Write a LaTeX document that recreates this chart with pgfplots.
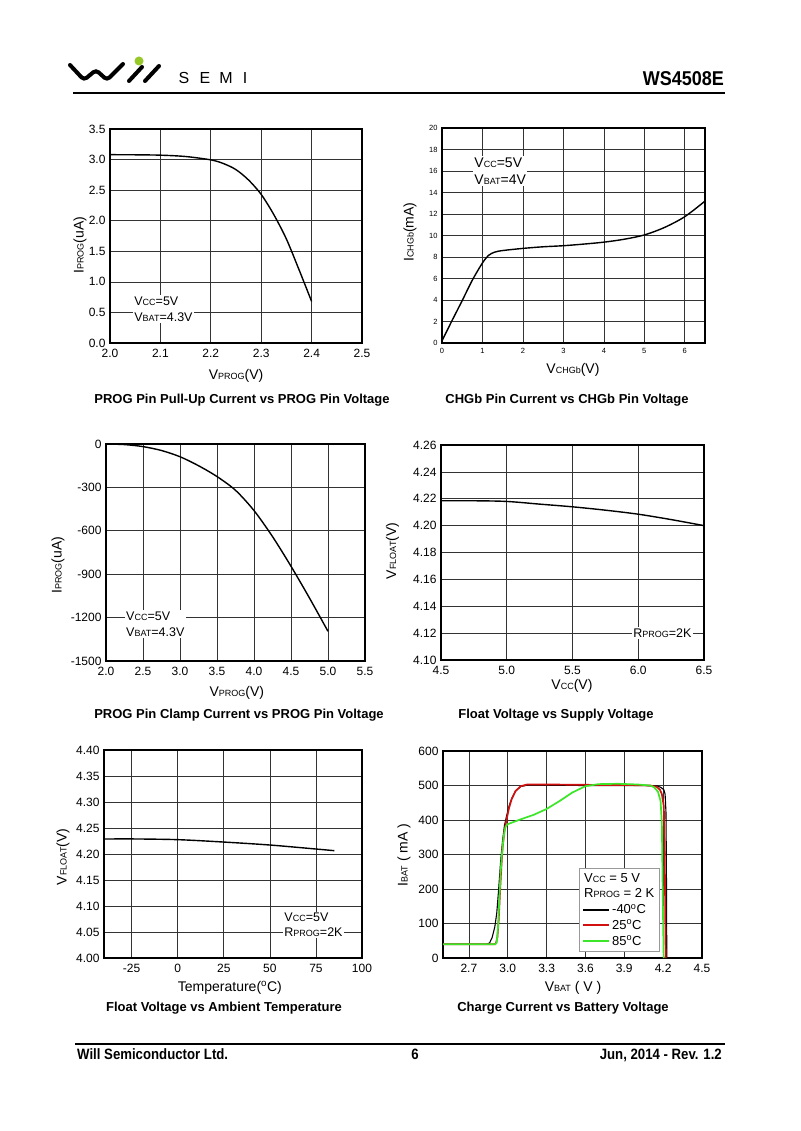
\documentclass[border=0pt]{standalone}
\usepackage{pgfplots}
\pgfplotsset{compat=1.18}
\usepackage{fontspec}
\setmainfont{Liberation Sans}
\newcommand\fs[1]{\fontsize{#1}{#1}\selectfont}
\newcommand\sm[1]{{\fontsize{9}{9}\selectfont #1}}
\definecolor{dsred}{RGB}{210,16,16}
\definecolor{dsgreen}{RGB}{60,230,40}
\definecolor{logogreen}{RGB}{150,200,40}
\pgfplotsset{
 dsaxis/.style={scale only axis, anchor=south west,
   axis line style={line width=1.3pt},
   grid=major, major grid style={line width=0.7pt, black!80},
   major tick length=0pt,
   ticklabel style={font=\fs{12}},
   xticklabel style={yshift=-2.5pt},
   yticklabel style={xshift=-1pt},
   label style={font=\fs{14}},
   /pgf/number format/assume math mode=true,
   /pgf/number format/1000 sep={},
   cycle list={black\\},
   every axis plot/.append style={line width=1.4pt, no marks},
 },
}
\begin{document}
\begin{tikzpicture}
\path[use as bounding box, fill=white] (0pt,0pt) rectangle (800pt,-1131pt);
% ---------- header ----------
\draw[line width=4pt, rounded corners=3.5pt, line cap=round] (70pt,-65pt) -- (84pt,-80pt) -- (96pt,-70pt) -- (107pt,-80pt) -- (123pt,-64pt);
\draw[line width=4pt, line cap=round] (129pt,-81pt) -- (142pt,-67pt);
\draw[line width=4pt, line cap=round] (145pt,-81pt) -- (159pt,-66pt);
\fill[logogreen] (139pt,-61pt) circle (4.5pt);
\foreach \x/\l in {184/S,205/E,226/M,245/I}{\node[anchor=base, font=\fs{16}, inner sep=0pt] at (\x pt,-84pt) {\l};}
\node[anchor=base east, font=\bfseries\fs{20}, xscale=0.9, inner sep=0pt] at (724pt,-86pt) {WS4508E};
\draw[line width=2.5pt] (73pt,-93pt) -- (725pt,-93pt);

% ---------- plot 1 ----------
\begin{axis}[dsaxis, at={(110pt,-343pt)}, width=252pt, height=214pt,
  xmin=2.0, xmax=2.5, ymin=0, ymax=3.5,
  xtick={2.0,2.1,2.2,2.3,2.4,2.5}, ytick={0,0.5,1,1.5,2,2.5,3,3.5},
  xticklabel style={/pgf/number format/fixed, /pgf/number format/fixed zerofill, /pgf/number format/precision=1},
  yticklabel style={/pgf/number format/fixed, /pgf/number format/fixed zerofill, /pgf/number format/precision=1},
  xlabel={V\sm{PROG}(V)}, ylabel={I\sm{PROG}(uA)},
  xlabel style={at={(axis description cs:0.5,-0.154)}, anchor=center},
  ylabel style={at={(axis description cs:-0.119,0.458)}, anchor=center}]
\addplot[black, smooth, line width=1.4pt] coordinates {(2.0,3.08) (2.05,3.078) (2.1,3.072) (2.15,3.05) (2.2,2.995) (2.225,2.935) (2.25,2.835) (2.275,2.665) (2.3,2.43) (2.325,2.1) (2.35,1.7) (2.375,1.2) (2.4,0.68)};
\node[fill=white, inner sep=1.5pt, align=left, anchor=west, font=\fontsize{12.5}{16}\selectfont] at (axis cs:2.045,0.556) {V\sm{CC}=5V\\V\sm{BAT}=4.3V};
\end{axis}
\node[font=\bfseries\fs{13}] at (242pt,-400pt) {PROG Pin Pull-Up Current vs PROG Pin Voltage};

% ---------- plot 2 ----------
\begin{axis}[dsaxis, at={(442pt,-343pt)}, width=263pt, height=215pt,
  xmin=0, xmax=6.5, ymin=0, ymax=20,
  xtick={0,1,2,3,4,5,6}, ytick={0,2,...,20},
  ticklabel style={font=\fs{7.5}},
  xticklabel style={yshift=1pt},
  xlabel={V\sm{CHGb}(V)}, ylabel={I\sm{CHGb}(mA)},
  xlabel style={at={(axis description cs:0.498,-0.126)}, anchor=center},
  ylabel style={at={(axis description cs:-0.122,0.516)}, anchor=center}]
\addplot[black, smooth, line width=1.4pt] coordinates {(0,0.2) (0.25,2.1) (0.5,3.95) (0.75,5.85) (1.0,7.45) (1.15,8.15) (1.3,8.45) (1.5,8.6) (2,8.8) (2.5,8.95) (3,9.05) (3.5,9.2) (4,9.38) (4.5,9.65) (5,10.05) (5.5,10.75) (6,11.75) (6.5,13.2)};
\node[fill=white, inner sep=1.5pt, align=left, anchor=west, font=\fontsize{14}{17}\selectfont] at (axis cs:0.76,16.0) {V\sm{CC}=5V\\V\sm{BAT}=4V};
\end{axis}
\node[font=\bfseries\fs{13}] at (567pt,-400pt) {CHGb Pin Current vs CHGb Pin Voltage};

% ---------- plot 3 ----------
\begin{axis}[dsaxis, at={(106pt,-661pt)}, width=259pt, height=217pt,
  xmin=2.0, xmax=5.5, ymin=-1500, ymax=0,
  xtick={2.0,2.5,3.0,3.5,4.0,4.5,5.0,5.5}, ytick={-1500,-1200,-900,-600,-300,0},
  xticklabel style={/pgf/number format/fixed, /pgf/number format/fixed zerofill, /pgf/number format/precision=1},
  xlabel={V\sm{PROG}(V)}, ylabel={I\sm{PROG}(uA)},
  xlabel style={at={(axis description cs:0.505,-0.147)}, anchor=center},
  ylabel style={at={(axis description cs:-0.185,0.442)}, anchor=center}]
\addplot[black, smooth, line width=1.4pt] coordinates {(2.0,0) (2.25,-4) (2.5,-18) (2.75,-45) (3.0,-88) (3.25,-150) (3.5,-225) (3.75,-320) (4.0,-460) (4.25,-640) (4.5,-845) (4.75,-1065) (5.0,-1295)};
\node[fill=white, inner sep=1.5pt, align=left, anchor=west, font=\fontsize{12.5}{16}\selectfont] at (axis cs:2.25,-1244) {V\sm{CC}=5V\\V\sm{BAT}=4.3V};
\end{axis}
\node[font=\bfseries\fs{13}] at (239pt,-715pt) {PROG Pin Clamp Current vs PROG Pin Voltage};

% ---------- plot 4 ----------
\begin{axis}[dsaxis, at={(441pt,-660pt)}, width=263pt, height=215pt,
  xmin=4.5, xmax=6.5, ymin=4.10, ymax=4.26,
  xtick={4.5,5.0,5.5,6.0,6.5}, ytick={4.10,4.12,4.14,4.16,4.18,4.20,4.22,4.24,4.26},
  xticklabel style={/pgf/number format/fixed, /pgf/number format/fixed zerofill, /pgf/number format/precision=1},
  yticklabel style={/pgf/number format/fixed, /pgf/number format/fixed zerofill, /pgf/number format/precision=2},
  xlabel={V\sm{CC}(V)}, ylabel={V\sm{FLOAT}(V)},
  xlabel style={at={(axis description cs:0.498,-0.12)}, anchor=center},
  ylabel style={at={(axis description cs:-0.184,0.507)}, anchor=center}]
\addplot[black, smooth, line width=1.4pt] coordinates {(4.5,4.2185) (4.75,4.2185) (5.0,4.218) (5.25,4.216) (5.5,4.214) (5.75,4.2115) (6.0,4.2085) (6.25,4.2045) (6.5,4.200)};
\node[fill=white, inner sep=1.5pt, anchor=west, font=\fs{12.5}] at (axis cs:5.95,4.12) {R\sm{PROG}=2K};
\end{axis}
\node[font=\bfseries\fs{13}] at (556pt,-715pt) {Float Voltage vs Supply Voltage};

% ---------- plot 5 ----------
\begin{axis}[dsaxis, at={(104pt,-958pt)}, width=258pt, height=208pt,
  xmin=-40, xmax=100, ymin=4.00, ymax=4.40,
  xtick={-25,0,25,50,75,100}, ytick={4.00,4.05,4.10,4.15,4.20,4.25,4.30,4.35,4.40},
  yticklabel style={/pgf/number format/fixed, /pgf/number format/fixed zerofill, /pgf/number format/precision=2},
  xlabel={Temperature(\textsuperscript{o}C)}, ylabel={V\sm{FLOAT}(V)},
  xlabel style={at={(axis description cs:0.488,-0.144)}, anchor=center},
  ylabel style={at={(axis description cs:-0.159,0.486)}, anchor=center}]
\addplot[black, smooth, line width=1.4pt] coordinates {(-40,4.2288) (-25,4.229) (0,4.2276) (25,4.223) (50,4.2173) (75,4.2096) (85,4.2064)};
\node[fill=white, inner sep=1.5pt, align=left, anchor=west, font=\fontsize{12.5}{15}\selectfont] at (axis cs:57,4.0635) {V\sm{CC}=5V\\R\sm{PROG}=2K};
\end{axis}
\node[font=\bfseries\fs{13}] at (224pt,-1008pt) {Float Voltage vs Ambient Temperature};

% ---------- plot 6 ----------
\begin{axis}[dsaxis, at={(443pt,-958pt)}, width=259pt, height=207pt,
  xmin=2.5, xmax=4.5, ymin=0, ymax=600,
  xtick={2.7,3.0,3.3,3.6,3.9,4.2,4.5}, ytick={0,100,...,600},
  xticklabel style={/pgf/number format/fixed, /pgf/number format/fixed zerofill, /pgf/number format/precision=1},
  xlabel={V\sm{BAT} ( V )}, ylabel={I\sm{BAT} ( mA )},
  xlabel style={at={(axis description cs:0.502,-0.145)}, anchor=center},
  ylabel style={at={(axis description cs:-0.151,0.498)}, anchor=center},
  legend cell align=left,
  legend image code/.code={\draw[#1] (0pt,0pt) -- (26pt,0pt);},
  legend style={at={(axis description cs:0.525,0.03)}, anchor=south west, draw=black!40, fill=white, font=\fs{13}, row sep=1pt, inner sep=3pt}]
\addlegendimage{empty legend}\addlegendentry{\hspace*{-28pt}V\sm{CC} = 5 V}
\addlegendimage{empty legend}\addlegendentry{\hspace*{-28pt}R\sm{PROG} = 2 K}
\addlegendimage{black, line width=1.6pt}\addlegendentry{-40\textsuperscript{o}C}
\addlegendimage{dsred, line width=2pt}\addlegendentry{25\textsuperscript{o}C}
\addlegendimage{dsgreen, line width=2pt}\addlegendentry{85\textsuperscript{o}C}
\addplot[black, line width=1.1pt, sharp plot, forget plot] coordinates {(2.5,40) (2.84,40) (2.86,44) (2.88,60) (2.90,90) (2.915,130) (2.93,200) (2.945,280) (2.96,340) (2.975,385) (2.99,410) (3.01,440) (3.03,462) (3.06,484) (3.1,497) (3.15,501) (3.3,501) (3.6,500) (4.0,500) (4.15,499) (4.18,495) (4.205,488) (4.215,475) (4.222,420) (4.226,200) (4.228,0)};
\addplot[dsred, line width=1.7pt, sharp plot, forget plot] coordinates {(2.5,40) (2.9,40) (2.91,44) (2.92,60) (2.93,110) (2.94,190) (2.95,260) (2.96,320) (2.975,370) (2.99,400) (3.01,435) (3.03,460) (3.06,484) (3.1,498) (3.15,503) (3.3,503) (3.6,502) (4.0,501) (4.1,500) (4.15,496) (4.175,488) (4.19,475) (4.205,440) (4.212,300) (4.217,100) (4.22,0)};
\addplot[dsgreen, line width=1.7pt, sharp plot, forget plot] coordinates {(2.5,40) (2.905,40) (2.915,45) (2.925,90) (2.935,170) (2.945,250) (2.955,300) (2.965,340) (2.975,368) (2.985,382) (3.0,388) (3.05,395) (3.1,402) (3.2,415) (3.3,432) (3.4,455) (3.5,480) (3.6,498) (3.7,504) (3.85,505) (4.0,503) (4.1,500) (4.13,495) (4.16,482) (4.18,455) (4.19,390) (4.198,150) (4.204,0)};
\end{axis}
\node[font=\bfseries\fs{13}] at (563pt,-1008pt) {Charge Current vs Battery Voltage};

% ---------- footer ----------
\draw[line width=2.5pt] (75pt,-1044pt) -- (725pt,-1044pt);
\node[anchor=base west, font=\bfseries\fs{15}, xscale=0.88, inner sep=0pt] at (77pt,-1059pt) {Will Semiconductor Ltd.};
\node[anchor=base, font=\bfseries\fs{15}, xscale=0.88, inner sep=0pt] at (415pt,-1059pt) {6};
\node[anchor=base east, font=\bfseries\fs{15}, xscale=0.88, inner sep=0pt] at (722pt,-1059pt) {Jun, 2014 - Rev. 1.2};
\end{tikzpicture}
\end{document}
